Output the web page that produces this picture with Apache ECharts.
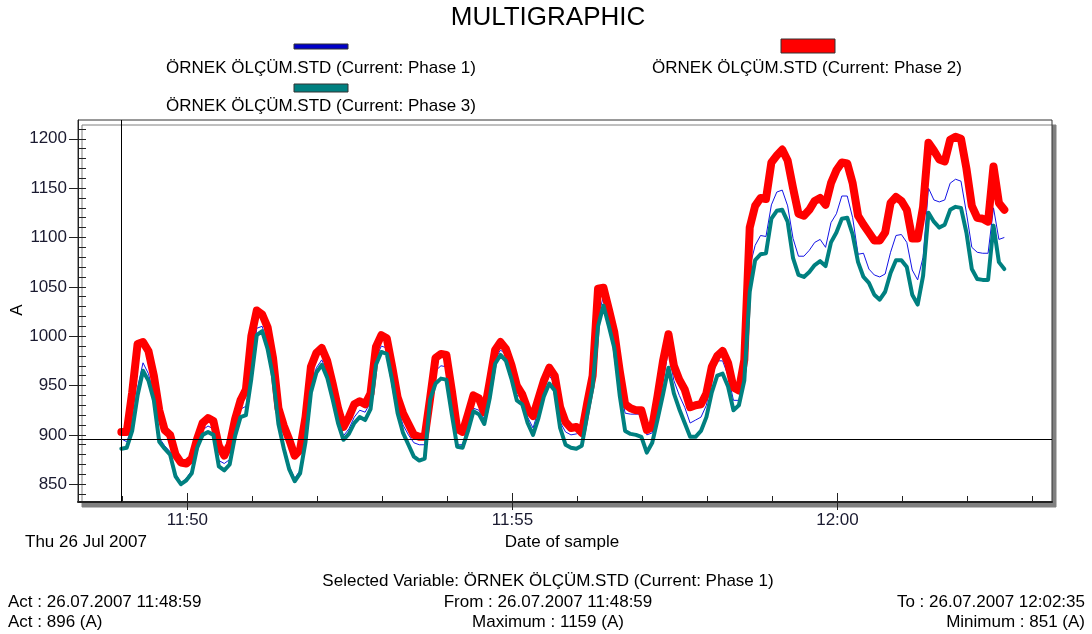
<!DOCTYPE html>
<html><head><meta charset="utf-8">
<script src="https://cdn.jsdelivr.net/npm/echarts@6/dist/echarts.min.js"></script>
<style>html,body{margin:0;padding:0;background:#fff}#c{width:1092px;height:634px}</style>
</head><body><div id="c"></div>
<script>
const chartTitle = 'MULTIGRAPHIC';
const seriesNames = [
  'ÖRNEK ÖLÇÜM.STD (Current: Phase 1)',
  'ÖRNEK ÖLÇÜM.STD (Current: Phase 2)',
  'ÖRNEK ÖLÇÜM.STD (Current: Phase 3)'
];
const seriesColors = ['#1414e6', '#ff0000', '#008080'];
const startTime = '11:48:59';
const endTime = '12:02:35';
const dateLabel = '26.07.2007';
const dayLabel = 'Thu 26 Jul 2007';
const sampleStepSec = 5;

const phase1 = [
  896, 893, 908, 948, 973, 962, 940, 897, 889, 883,
  861, 851, 856, 864, 892, 905, 909, 906, 874, 871,
  875, 904, 926, 929, 962, 1008, 1010, 992, 963, 915,
  890, 868, 856, 864, 897, 948, 968, 976, 963, 940,
  916, 899, 906, 918, 925, 923, 933, 978, 990, 988,
  960, 928, 910, 900, 892, 890, 890, 938, 965, 970,
  969, 930, 890, 890, 910, 927, 925, 916, 942, 977,
  986, 981, 963, 940, 938, 918, 907, 925, 946, 960,
  952, 913, 903, 900, 901, 903, 928, 955, 1020, 1040,
  1020, 995, 950, 922, 921, 921, 921, 900, 902, 927,
  955, 985, 955, 940, 928, 912, 915, 918, 930, 958,
  975, 975, 960, 935, 935, 962, 1070, 1092, 1102, 1101,
  1133, 1146, 1148, 1132, 1099, 1081, 1081, 1087, 1095, 1098,
  1090, 1115, 1124, 1142, 1142, 1120, 1083, 1084, 1068, 1062,
  1060, 1063, 1085, 1102, 1103, 1095, 1067, 1057, 1080, 1150,
  1138, 1136, 1138, 1155, 1159, 1157, 1125, 1090, 1085, 1084,
  1084, 1130, 1098, 1100
];
const phase2 = [
  903, 903, 943, 992, 994, 985, 960, 925, 905, 900,
  880, 872, 871, 876, 896, 912, 917, 914, 889, 879,
  890, 916, 935, 946, 1000, 1026, 1022, 1009, 978, 927,
  909, 895, 879, 885, 918, 969, 983, 988, 975, 952,
  927, 908, 918, 931, 934, 931, 942, 989, 1001, 998,
  969, 938, 922, 911, 900, 898, 898, 937, 978, 982,
  981, 945, 906, 903, 921, 940, 937, 923, 954, 986,
  994, 987, 971, 950, 941, 926, 919, 937, 955, 968,
  960, 928, 913, 907, 908, 902, 932, 960, 1048, 1049,
  1027, 1004, 965, 931, 927, 925, 925, 905, 908, 940,
  975, 1002, 970, 956, 946, 928, 930, 931, 942, 969,
  980, 985, 973, 948, 945, 976, 1110, 1132, 1140, 1139,
  1176, 1183, 1189, 1178, 1150, 1124, 1122, 1128, 1137, 1140,
  1133, 1155, 1168, 1176, 1175, 1155, 1122, 1113, 1105, 1097,
  1097, 1105, 1135, 1141, 1137, 1128, 1099, 1099, 1131, 1196,
  1188, 1179, 1177, 1199, 1202, 1200, 1170, 1132, 1120, 1119,
  1116, 1172, 1135, 1128
];
const phase3 = [
  886, 887, 904, 940, 965, 955, 935, 893, 886, 880,
  858, 850, 854, 861, 887, 900, 903, 900, 868, 864,
  870, 899, 918, 920, 957, 1001, 1005, 987, 959, 911,
  886, 865, 853, 861, 893, 943, 963, 971, 958, 936,
  912, 895, 901, 912, 918, 915, 926, 971, 984, 982,
  955, 922, 902, 890, 878, 874, 876, 936, 952, 957,
  956, 921, 888, 887, 904, 924, 921, 911, 937, 972,
  981, 975, 957, 935, 931, 912, 900, 917, 939, 952,
  945, 907, 890, 887, 886, 889, 920, 949, 1010, 1031,
  1010, 988, 940, 904, 901, 900, 898, 882, 892, 916,
  941, 968, 942, 926, 912, 898, 898, 904, 918, 943,
  960, 962, 949, 925, 930, 955, 1045, 1077, 1083, 1084,
  1119, 1127, 1128, 1116, 1079, 1062, 1060, 1065, 1072, 1076,
  1071, 1095, 1105, 1119, 1120, 1103, 1075, 1060, 1054, 1042,
  1037, 1045, 1064, 1077, 1077, 1070, 1042, 1032, 1061, 1125,
  1116, 1110, 1113, 1128, 1131, 1130, 1105, 1068, 1058, 1057,
  1057, 1112, 1075, 1068
];

const xAxisRange = ['11:48:19', '12:03:18'];
const xMajorTicks = ['11:50', '11:55', '12:00'];
const xMinorTicks = ['11:49', '11:51', '11:52', '11:53', '11:54', '11:56', '11:57', '11:58', '11:59', '12:01', '12:02', '12:03'];
const yAxisRange = [832, 1219];
const yMajorTicks = [850, 900, 950, 1000, 1050, 1100, 1150, 1200];
const yMinorTicks = [840, 850, 860, 870, 880, 890, 900, 910, 920, 930, 940, 950, 960, 970, 980, 990, 1000, 1010, 1020, 1030, 1040, 1050, 1060, 1070, 1080, 1090, 1100, 1110, 1120, 1130, 1140, 1150, 1160, 1170, 1180, 1190, 1200, 1210];
const yAxisName = 'A';
const xAxisName = 'Date of sample';

function toSec(s) {
  const p = s.split(':').map(Number);
  return p[0] * 3600 + p[1] * 60 + (p[2] || 0);
}
function fmtHM(sec) {
  const h = Math.floor(sec / 3600), m = Math.floor((sec % 3600) / 60);
  return h + ':' + String(m).padStart(2, '0');
}
const t0 = toSec(startTime);
const toData = arr => arr.map((v, i) => [t0 + i * sampleStepSec, v]);

const cursorTime = t0;
const cursorValue = phase1[0];
const maxP1 = Math.max(...phase1), minP1 = Math.min(...phase1);

const font = "'Liberation Sans', Arial, sans-serif";
const tickColor = '#222';
const labelColor = '#1a1a30';
const xMin = toSec(xAxisRange[0]), xMax = toSec(xAxisRange[1]);

const chart = echarts.init(document.getElementById('c'), null, {renderer: 'canvas'});

function txt(text, x, y, align, size, rotation) {
  return {type: 'text', x: x, y: y, rotation: rotation || 0, silent: true, z: 10,
    style: {text: text, fill: '#000', font: (size || 17) + 'px ' + font, textAlign: align, textVerticalAlign: 'middle'}};
}

const option = {
  animation: false,
  backgroundColor: '#fff',
  textStyle: {fontFamily: font},
  grid: {left: 78, top: 120, width: 974, height: 382, containLabel: false, outerBoundsMode: 'none',
    show: true, backgroundColor: '#fff',
    borderColor: '#333', borderWidth: 1, shadowColor: '#808080', shadowOffsetX: 4, shadowOffsetY: 5, shadowBlur: 0},
  xAxis: [
    {type: 'value', min: xMin, max: xMax, position: 'bottom',
      axisLine: {show: true, lineStyle: {color: tickColor, width: 2}},
      axisTick: {show: true, customValues: xMajorTicks.map(toSec), length: 8, inside: false, lineStyle: {color: tickColor}},
      axisLabel: {show: true, customValues: xMajorTicks.map(toSec), formatter: v => fmtHM(v), fontSize: 17, fontFamily: font, color: labelColor, margin: 10},
      splitLine: {show: false}},
    {type: 'value', min: xMin, max: xMax, position: 'bottom',
      axisLine: {show: false},
      axisTick: {show: true, customValues: xMajorTicks.map(toSec), length: 9, inside: true, lineStyle: {color: tickColor}},
      axisLabel: {show: false}, splitLine: {show: false}},
    {type: 'value', min: xMin, max: xMax, position: 'bottom',
      axisLine: {show: false},
      axisTick: {show: true, customValues: xMinorTicks.map(toSec), length: 6, inside: true, lineStyle: {color: tickColor}},
      axisLabel: {show: false}, splitLine: {show: false}}
  ],
  yAxis: [
    {type: 'value', min: yAxisRange[0], max: yAxisRange[1], position: 'left',
      axisLine: {show: true, lineStyle: {color: tickColor, width: 1}},
      axisTick: {show: true, customValues: yMajorTicks, length: 9, inside: false, lineStyle: {color: tickColor}},
      axisLabel: {show: true, customValues: yMajorTicks, formatter: v => String(v), fontSize: 17, fontFamily: font, color: labelColor, margin: 11},
      splitLine: {show: false}},
    {type: 'value', min: yAxisRange[0], max: yAxisRange[1], position: 'left',
      axisLine: {show: false},
      axisTick: {show: true, customValues: yMinorTicks, length: 8, inside: true, lineStyle: {color: tickColor}},
      axisLabel: {show: false}, splitLine: {show: false}}
  ],
  series: [
    {name: seriesNames[0], type: 'line', data: toData(phase1), showSymbol: false, z: 2,
      lineStyle: {color: seriesColors[0], width: 1, join: 'round'},
      markLine: {silent: true, symbol: 'none', animation: false, label: {show: false},
        lineStyle: {color: '#000', width: 1, type: 'solid'},
        data: [{xAxis: cursorTime}, {yAxis: cursorValue}]}},
    {name: seriesNames[1], type: 'line', data: toData(phase2), showSymbol: false, z: 3,
      lineStyle: {color: seriesColors[1], width: 8, join: 'round', cap: 'round'}},
    {name: seriesNames[2], type: 'line', data: toData(phase3), showSymbol: false, z: 4,
      lineStyle: {color: seriesColors[2], width: 4, join: 'round', cap: 'round'}}
  ],
  graphic: [
    txt(chartTitle, 548, 18, 'center', 26),
    txt(yAxisName, 17, 310, 'center', 17, Math.PI / 2),
    {type: 'rect', shape: {x: 294, y: 44, width: 54, height: 5}, style: {fill: '#0000c8', stroke: '#333', lineWidth: 1}, z: 10},
    {type: 'rect', shape: {x: 781, y: 39, width: 54, height: 14}, style: {fill: seriesColors[1], stroke: '#333', lineWidth: 1}, z: 10},
    {type: 'rect', shape: {x: 294, y: 84, width: 54, height: 8}, style: {fill: seriesColors[2], stroke: '#333', lineWidth: 1}, z: 10},
    txt(seriesNames[0], 321, 68, 'center'),
    txt(seriesNames[1], 807, 68, 'center'),
    txt(seriesNames[2], 321, 106, 'center'),
    txt(dayLabel, 25, 542, 'left'),
    txt(xAxisName, 562, 542, 'center'),
    txt('Selected Variable: ' + seriesNames[0], 548, 581, 'center'),
    txt('Act : ' + dateLabel + ' ' + startTime, 8, 602, 'left'),
    txt('From : ' + dateLabel + ' ' + startTime, 548, 602, 'center'),
    txt('To : ' + dateLabel + ' ' + endTime, 1085, 602, 'right'),
    txt('Act : ' + cursorValue + ' (A)', 8, 622, 'left'),
    txt('Maximum : ' + maxP1 + ' (A)', 548, 622, 'center'),
    txt('Minimum : ' + minP1 + ' (A)', 1085, 622, 'right')
  ]
};
chart.setOption(option);
</script></body></html>
